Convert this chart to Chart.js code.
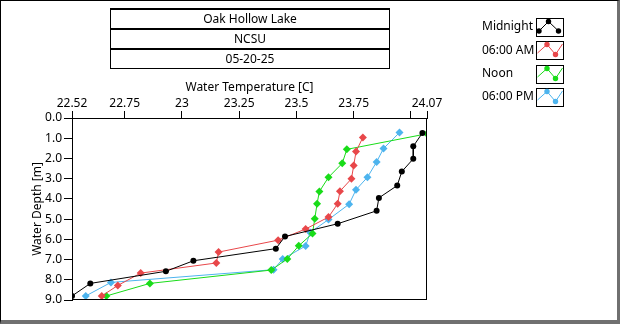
<!DOCTYPE html>
<html>
<head>
<meta charset="utf-8">
<script src="https://cdn.jsdelivr.net/npm/chart.js@4.4.1/dist/chart.umd.min.js"></script>
<style>
  html, body { margin: 0; padding: 0; background: #fff; }
  #wrap { position: relative; width: 620px; height: 324px; font-family: "Noto Sans", sans-serif; }
  #frame {
    position: absolute; left: 0; top: 0; width: 620px; height: 324px; box-sizing: border-box;
    border-left: 1px solid #000; border-top: 1px solid #000;
    border-right: 3px solid #707070; border-bottom: 4px solid #707070;
    pointer-events: none;
  }
  #titlebox {
    position: absolute; left: 110px; top: 8px; width: 280px; box-sizing: border-box;
    border: 1px solid #000; border-top-width: 2px;
  }
  #titlebox div { height: 18px; line-height: 18px; text-align: center; font-size: 12px; color: #000; }
  #titlebox div + div { border-top: 2px solid #000; }
  canvas { position: absolute; left: 0; top: 0; }
</style>
</head>
<body>
<div id="wrap">
  <canvas id="depthChart" width="620" height="324"></canvas>
  <div id="titlebox">
    <div>Oak Hollow Lake</div>
    <div>NCSU</div>
    <div>05-20-25</div>
  </div>
  <div id="frame"></div>
</div>
<script>
// readings off the profile: temperature [C] and depth [m]
const midnightTemp  = [24.05, 24.01, 24.01, 23.96, 23.94, 23.86, 23.85, 23.68, 23.45, 23.41, 23.05, 22.93, 22.60, 22.52];
const midnightDepth = [0.74, 1.40, 2.02, 2.65, 3.34, 3.95, 4.59, 5.23, 5.86, 6.46, 7.06, 7.58, 8.18, 8.80];
const amTemp  = [23.79, 23.76, 23.75, 23.74, 23.69, 23.68, 23.64, 23.54, 23.42, 23.16, 23.15, 22.82, 22.72, 22.65];
const amDepth = [0.96, 1.66, 2.35, 3.01, 3.62, 4.24, 4.90, 5.49, 6.04, 6.63, 7.17, 7.67, 8.28, 8.80];
const noonTemp  = [24.07, 23.72, 23.70, 23.64, 23.60, 23.59, 23.58, 23.57, 23.51, 23.46, 23.39, 22.86, 22.67];
const noonDepth = [0.78, 1.55, 2.24, 2.93, 3.64, 4.24, 4.98, 5.71, 6.32, 6.97, 7.52, 8.18, 8.80];
const pmTemp  = [23.95, 23.88, 23.85, 23.81, 23.76, 23.73, 23.64, 23.56, 23.54, 23.44, 23.40, 22.69, 22.58];
const pmDepth = [0.72, 1.51, 2.17, 2.93, 3.55, 4.26, 5.02, 5.66, 6.33, 6.97, 7.50, 8.13, 8.80];

const seriesNames = ['Midnight', '06:00 AM', 'Noon', '06:00 PM'];
const tempTicks = [22.52, 22.75, 23, 23.25, 23.5, 23.75, 24, 24.07];
const tempTickLabels = ['22.52', '22.75', '23', '23.25', '23.5', '23.75', '', '24.07'];
const depthTicks = [0, 1, 2, 3, 4, 5, 6, 7, 8, 9];

const colors = ['#000000', '#e8474a', '#19dc19', '#4db4ee'];

function toPoints(xs, ys) {
  return xs.map((x, i) => ({ x: x, y: ys[i] }));
}

Chart.defaults.font.family = '"Noto Sans", sans-serif';
Chart.defaults.font.size = 12;
Chart.defaults.color = '#000';

// side legend: label on the left, little plot icon on the right
const sideLegend = {
  id: 'sideLegend',
  afterDraw(chart) {
    const ctx = chart.ctx;
    const a = chart.chartArea;
    ctx.save();
    // frame round the plot
    ctx.strokeStyle = '#000';
    ctx.lineWidth = 1;
    ctx.strokeRect(a.left + 0.5, a.top + 0.5, a.right - a.left - 1, a.bottom - a.top - 1);

    chart.data.datasets.forEach((ds, i) => {
      const cy = 27 + i * 23.3;
      ctx.font = '12px "Noto Sans", sans-serif';
      ctx.fillStyle = '#000';
      ctx.textBaseline = 'middle';
      ctx.textAlign = 'left';
      ctx.fillText(ds.label, 482, cy);

      const bx = 536, by = Math.round(cy - 9);
      ctx.strokeStyle = '#000';
      ctx.lineWidth = 1;
      ctx.strokeRect(bx + 0.5, by + 0.5, 27, 18);

      let pts, marks;
      if (i === 0) {
        pts = [[3, 13], [12.5, 3.5], [22.5, 13]];
        marks = [0, 1, 2];
      } else {
        pts = [[1.5, 12], [11, 3.5], [19.5, 13.5], [26.5, 3]];
        marks = [1, 2];
      }
      ctx.strokeStyle = ds.borderColor;
      ctx.beginPath();
      pts.forEach((p, k) => {
        if (k === 0) ctx.moveTo(bx + p[0], by + p[1]);
        else ctx.lineTo(bx + p[0], by + p[1]);
      });
      ctx.stroke();
      ctx.fillStyle = ds.borderColor;
      marks.forEach(k => {
        ctx.beginPath();
        ctx.arc(bx + pts[k][0], by + pts[k][1], 2.7, 0, Math.PI * 2);
        ctx.fill();
      });
    });
    ctx.restore();
  }
};

const ctx = document.getElementById('depthChart').getContext('2d');
const depthChart = new Chart(ctx, {
  type: 'scatter',
  data: {
    datasets: [
      { label: seriesNames[0], data: toPoints(midnightTemp, midnightDepth), pointStyle: 'circle', pointRadius: 3 },
      { label: seriesNames[1], data: toPoints(amTemp, amDepth), pointStyle: 'rectRot', pointRadius: 4 },
      { label: seriesNames[2], data: toPoints(noonTemp, noonDepth), pointStyle: 'rectRot', pointRadius: 4 },
      { label: seriesNames[3], data: toPoints(pmTemp, pmDepth), pointStyle: 'rectRot', pointRadius: 4 }
    ].map((ds, i) => Object.assign(ds, {
      showLine: true,
      borderColor: colors[i],
      backgroundColor: colors[i],
      pointBorderColor: colors[i],
      pointBackgroundColor: colors[i],
      borderWidth: 1,
      pointBorderWidth: 0,
      tension: 0
    }))
  },
  options: {
    responsive: false,
    animation: false,
    layout: { padding: { left: 24, top: 72, right: 193, bottom: 24 } },
    plugins: {
      legend: { display: false },
      tooltip: { enabled: false }
    },
    scales: {
      x: {
        type: 'linear',
        position: 'top',
        min: 22.52,
        max: 24.07,
        afterBuildTicks: s => { s.ticks = tempTicks.map(v => ({ value: v })); },
        afterFit: s => { s.height = 46; },
        ticks: {
          autoSkip: false,
          maxRotation: 0,
          padding: 0,
          color: '#000',
          callback: (v, i) => tempTickLabels[i]
        },
        grid: { drawOnChartArea: false, drawTicks: true, tickLength: 7, color: '#000' },
        border: { display: true, color: '#000' },
        title: { display: true, text: 'Water Temperature [C]', color: '#000', padding: { top: 8, bottom: 0 } }
      },
      y: {
        type: 'linear',
        reverse: true,
        min: 0,
        max: 9,
        afterBuildTicks: s => { s.ticks = depthTicks.map(v => ({ value: v })); },
        afterFit: s => { s.width = 48; },
        ticks: {
          padding: 2,
          color: '#000',
          callback: v => v.toFixed(1)
        },
        grid: { drawOnChartArea: false, drawTicks: true, tickLength: 8, color: '#000' },
        border: { display: true, color: '#000' },
        title: { display: true, text: 'Water Depth [m]', color: '#000', padding: { top: 6, bottom: 0 } }
      }
    }
  },
  plugins: [sideLegend]
});
</script>
</body>
</html>
